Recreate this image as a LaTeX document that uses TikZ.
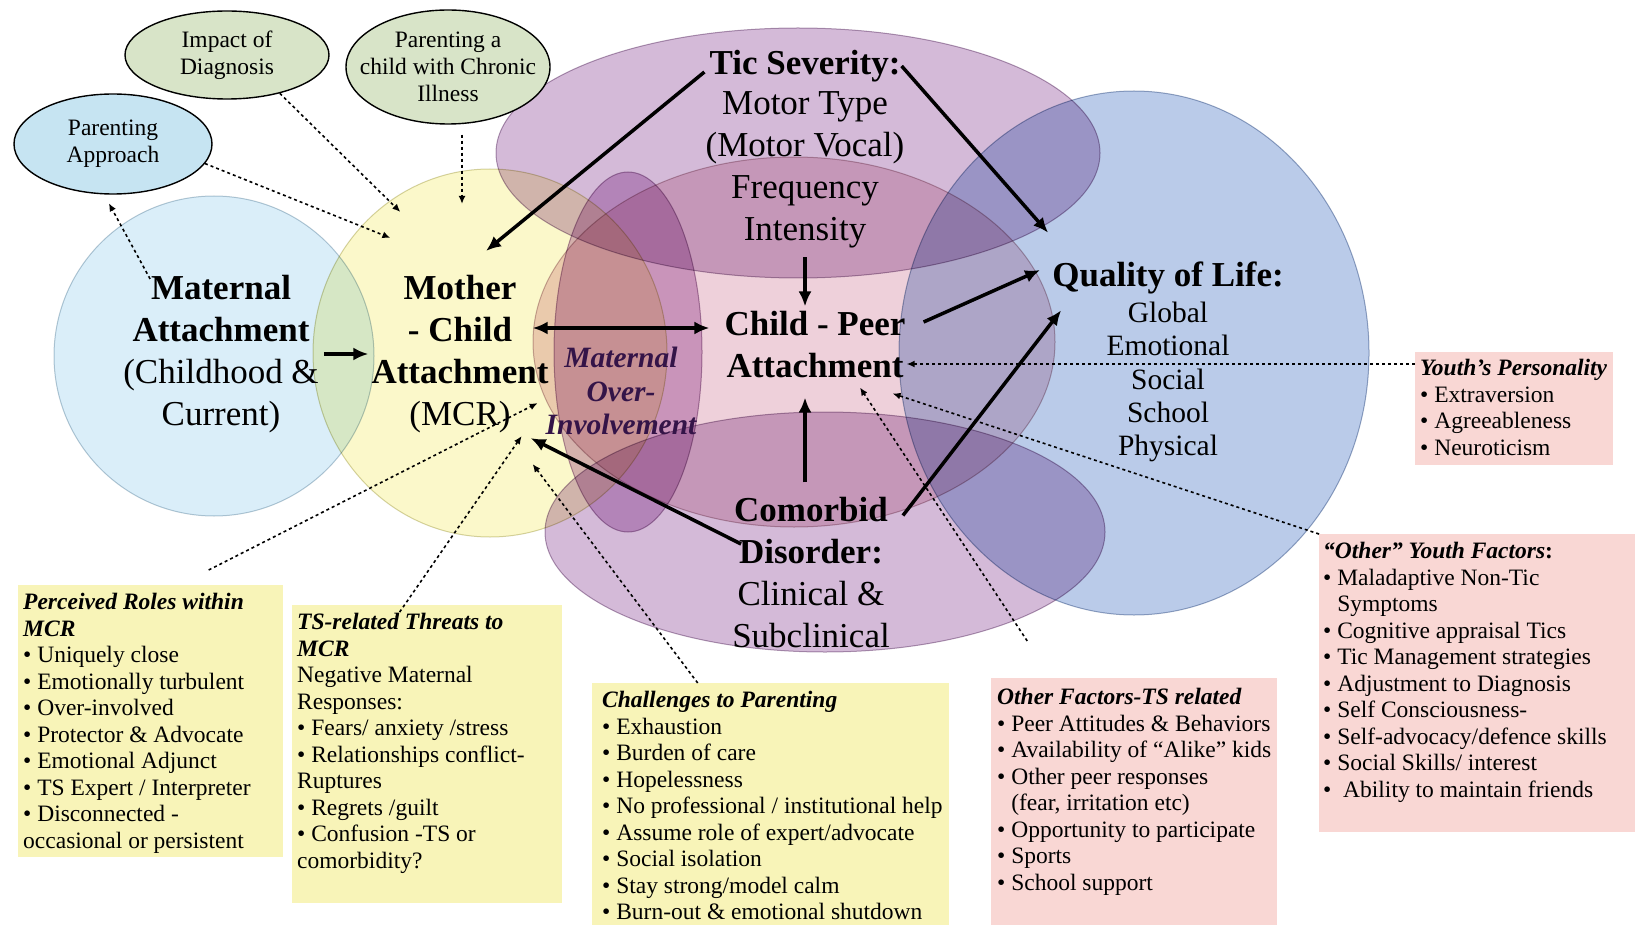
\documentclass[tikz,border=0pt]{standalone}
\usepackage{fontspec}
\setmainfont{Liberation Serif}
\usetikzlibrary{shapes.geometric, arrows.meta}

\definecolor{matblue}{RGB}{218,238,249}
\definecolor{mcryellow}{RGB}{251,248,202}
\definecolor{ticpurple}{RGB}{212,186,216}
\definecolor{peerpink}{RGB}{238,208,218}
\definecolor{moipurple}{RGB}{216,182,218}
\definecolor{qolblue}{RGB}{186,203,233}
\definecolor{moitext}{RGB}{52,20,72}
\definecolor{noteyellow}{RGB}{248,244,184}
\definecolor{notepink}{RGB}{249,215,212}
\definecolor{bubblegreen}{RGB}{216,228,200}
\definecolor{bubbleblue}{RGB}{198,228,242}

\newcommand{\boxhead}[1]{\textbf{\textit{#1}}}
\newcommand{\indentline}{\phantom{\textbullet\ }}

\begin{document}
\begin{tikzpicture}[x=1pt, y=-1pt,
    big/.style={font=\fontsize{35}{42}\selectfont, align=center, inner sep=1pt},
    mid/.style={font=\fontsize{29.5}{33.4}\selectfont, align=center, inner sep=1pt},
    bubble/.style={ellipse, draw=black, line width=1.4pt, inner sep=0pt,
        font=\fontsize{23.5}{27}\selectfont, align=center},
    region/.style={fill=#1, draw=#1!85!black, line width=1pt},
    notebox/.style={anchor=north west, inner sep=0pt},
    notetext/.style={anchor=north west, inner sep=0pt, align=left,
        font=\fontsize{23.5}{26.5}\selectfont},
    link/.style={line width=3.5pt, -{Latex[length=15pt, width=13pt]}},
    dotlink/.style={line width=1.6pt, dash pattern=on 3pt off 3pt,
        -{Latex[length=8pt, width=7pt]}},
]
\useasboundingbox (0,0) rectangle (1635,925);

% overlapping regions, multiplied so the overlaps darken
\begin{scope}[blend mode=multiply]
\filldraw[region=matblue] (214,356) ellipse [x radius=160pt, y radius=160pt];
\filldraw[region=mcryellow] (490,353) ellipse [x radius=177pt, y radius=184pt];
\filldraw[region=ticpurple] (798,153) ellipse [x radius=302pt, y radius=125pt];
\filldraw[region=ticpurple] (825,532) ellipse [x radius=280pt, y radius=120pt];
\filldraw[region=peerpink] (794,342) ellipse [x radius=261pt, y radius=185pt];
\filldraw[region=moipurple] (628,352) ellipse [x radius=74pt, y radius=180pt];
\filldraw[region=qolblue] (1134,353) ellipse [x radius=235pt, y radius=262pt];
\end{scope}

% bubbles
\node[bubble, fill=bubbleblue, minimum width=198pt, minimum height=100pt] (approach) at (113,144) {Parenting\\Approach};
\node[bubble, fill=bubblegreen, minimum width=204pt, minimum height=88pt] (impact) at (227,55) {Impact of\\Diagnosis};
\node[bubble, fill=bubblegreen, minimum width=204pt, minimum height=114pt, inner xsep=-20pt] (chronic) at (448,67) {Parenting a\\child with Chronic\\Illness};

% main concepts
\node[big] (matern) at (221,354) {\textbf{Maternal}\\\textbf{Attachment}\\(Childhood \&\\Current)};
\node[big] (mcr) at (460,354) {\textbf{Mother}\\\textbf{- Child}\\\textbf{Attachment}\\(MCR)};
\node[big] (tictitle) at (805,66) {\textbf{Tic Severity:}};
\node[big] (ticbody) at (805,170) {Motor Type\\(Motor Vocal)\\Frequency\\Intensity};
\node[big] (cpa) at (815,345) {\textbf{Child - Peer}\\\textbf{Attachment}};
\node[big] (comorb) at (811,573) {\textbf{Comorbid}\\\textbf{Disorder:}\\Clinical \&\\Subclinical};
\node[big] (qoltitle) at (1168,278) {\textbf{Quality of Life:}};
\node[mid] (qolbody) at (1168,382) {Global\\Emotional\\Social\\School\\Physical};
\node[mid, text=moitext, font=\fontsize{29.5}{33.4}\selectfont\bfseries\itshape] (moi) at (621,391) {Maternal\\Over-\\Involvement};

% note boxes
\node[notebox, fill=noteyellow, minimum width=265pt, minimum height=272pt] (rolesbox) at (18,585) {};
\node[notetext] (roles) at ([xshift=5pt,yshift=-8pt]rolesbox.north west) {%
  \boxhead{Perceived Roles within}\\\boxhead{MCR}\\
  \textbullet\ Uniquely close\\
  \textbullet\ Emotionally turbulent\\
  \textbullet\ Over-involved\\
  \textbullet\ Protector \& Advocate\\
  \textbullet\ Emotional Adjunct\\
  \textbullet\ TS Expert / Interpreter\\
  \textbullet\ Disconnected -\\
  occasional or persistent};

\node[notebox, fill=noteyellow, minimum width=270pt, minimum height=298pt] (threatsbox) at (292,605) {};
\node[notetext] (threats) at ([xshift=5pt,yshift=-8pt]threatsbox.north west) {%
  \boxhead{TS-related Threats to}\\\boxhead{MCR}\\
  Negative Maternal\\
  Responses:\\
  \textbullet\ Fears/ anxiety /stress\\
  \textbullet\ Relationships conflict-\\
  Ruptures\\
  \textbullet\ Regrets /guilt\\
  \textbullet\ Confusion -TS or\\
  comorbidity?};

\node[notebox, fill=noteyellow, minimum width=357pt, minimum height=242pt] (challbox) at (592,683) {};
\node[notetext] (chall) at ([xshift=10pt,yshift=-8pt]challbox.north west) {%
  \boxhead{Challenges to Parenting}\\
  \textbullet\ Exhaustion\\
  \textbullet\ Burden of care\\
  \textbullet\ Hopelessness\\
  \textbullet\ No professional / institutional help\\
  \textbullet\ Assume role of expert/advocate\\
  \textbullet\ Social isolation\\
  \textbullet\ Stay strong/model calm\\
  \textbullet\ Burn-out \& emotional shutdown};

\node[notebox, fill=notepink, minimum width=286pt, minimum height=247pt] (othersbox) at (991,678) {};
\node[notetext] (others) at ([xshift=6pt,yshift=-10pt]othersbox.north west) {%
  \boxhead{Other Factors-TS related}\\
  \textbullet\ Peer Attitudes \& Behaviors\\
  \textbullet\ Availability of “Alike” kids\\
  \textbullet\ Other peer responses\\
  \indentline(fear, irritation etc)\\
  \textbullet\ Opportunity to participate\\
  \textbullet\ Sports\\
  \textbullet\ School support};

\node[notebox, fill=notepink, minimum width=316pt, minimum height=298pt] (youthbox) at (1319,534) {};
\node[notetext] (youth) at ([xshift=4pt,yshift=-8pt]youthbox.north west) {%
  \boxhead{“Other” Youth Factors}\textbf{:}\\
  \textbullet\ Maladaptive Non-Tic\\
  \indentline Symptoms\\
  \textbullet\ Cognitive appraisal Tics\\
  \textbullet\ Tic Management strategies\\
  \textbullet\ Adjustment to Diagnosis\\
  \textbullet\ Self Consciousness-\\
  \textbullet\ Self-advocacy/defence skills\\
  \textbullet\ Social Skills/ interest\\
  \textbullet\ \ Ability to maintain friends};

\node[notebox, fill=notepink, minimum width=198pt, minimum height=113pt] (persbox) at (1415,352) {};
\node[notetext] (pers) at ([xshift=5pt,yshift=-7pt]persbox.north west) {%
  \boxhead{Youth’s Personality}\\
  \textbullet\ Extraversion\\
  \textbullet\ Agreeableness\\
  \textbullet\ Neuroticism};

% solid links
\draw[link, shorten <=4pt, shorten >=2pt] (matern.east) -- (mcr.west);
\draw[link] ([xshift=-4pt,yshift=-6pt]tictitle.west) -- ([xshift=26pt,yshift=23pt]mcr.north);
\draw[link] (tictitle.east) -- ([xshift=-3pt,yshift=28pt]qoltitle.north west);
\draw[link, shorten <=8pt, shorten >=4pt] (ticbody.south) -- ([xshift=-10pt]cpa.north);
\draw[link, {Latex[length=15pt, width=13pt]}-{Latex[length=15pt, width=13pt]}] ([xshift=-17pt,yshift=26pt]mcr.east) -- ([xshift=-14pt,yshift=17pt]cpa.west);
\draw[link] ([xshift=17pt,yshift=23pt]cpa.east) -- ([xshift=-11pt,yshift=8pt]qoltitle.west);
\draw[link] ([xshift=-6pt,yshift=14pt]comorb.north) -- ([xshift=-10pt,yshift=-18pt]cpa.south);
\draw[link] ([xshift=12pt,yshift=-19pt]comorb.north east) -- ([xshift=10pt,yshift=-15pt]qoltitle.south west);
\draw[link] ([xshift=10pt,yshift=29pt]comorb.west) -- ([xshift=-19pt,yshift=-4pt]mcr.south east);

% dotted influences
\draw[dotlink] (impact.-36) -- ([xshift=30pt,yshift=62pt]mcr.north west);
\draw[dotlink, shorten <=10pt] ([xshift=14pt]chronic.south) -- ([xshift=2pt,yshift=70pt]mcr.north);
\draw[dotlink] (approach.-12) -- ([xshift=20pt,yshift=36pt]mcr.north west);
\draw[dotlink, shorten >=10pt] ([xshift=28pt,yshift=-5pt]matern.north west) -- (approach.-100);
\draw[dotlink] ([xshift=58pt,yshift=15pt]rolesbox.north) -- ([xshift=-12pt,yshift=31pt]mcr.south east);
\draw[dotlink] ([xshift=-31pt,yshift=-12pt]threatsbox.north) -- ([xshift=-28pt,yshift=-2pt]mcr.south east);
\draw[dotlink] ([xshift=-73pt]challbox.north) -- ([xshift=-17pt,yshift=-30pt]mcr.south east);
\draw[dotlink] ([xshift=-107pt,yshift=37pt]othersbox.north) -- ([xshift=45pt,yshift=-8pt]cpa.south);
\draw[dotlink] (youthbox.north west) -- ([xshift=-14pt,yshift=-14pt]cpa.south east);
\draw[dotlink] ([yshift=-12pt]persbox.north west) -- ([yshift=-19pt]cpa.east);
\end{tikzpicture}
\end{document}
